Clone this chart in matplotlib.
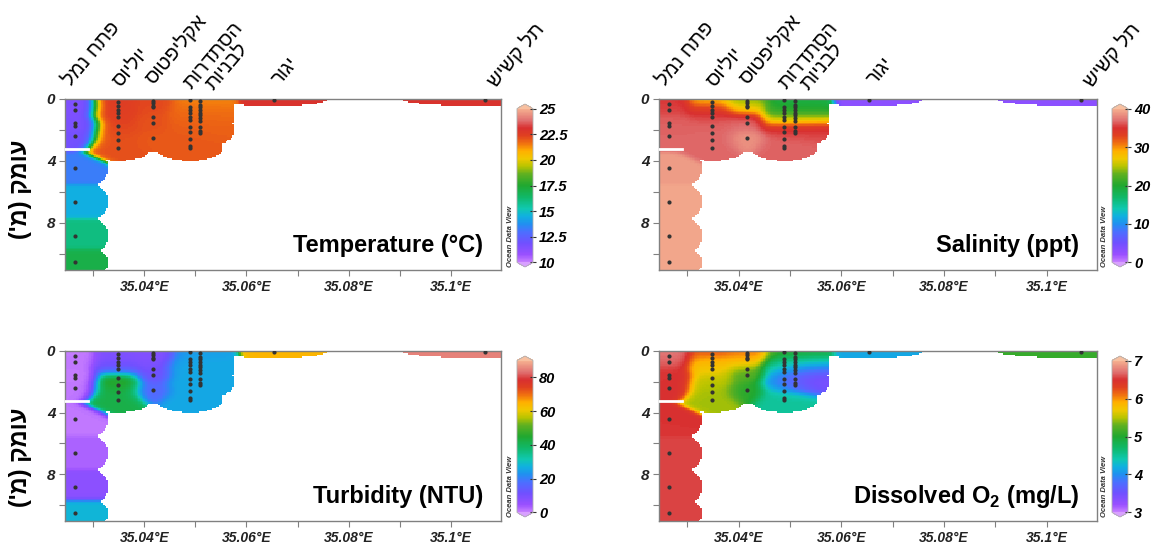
import numpy as np
import matplotlib
matplotlib.use('Agg')
import matplotlib.pyplot as plt
from matplotlib.colors import LinearSegmentedColormap
from matplotlib.ticker import FixedLocator

plt.rcParams['font.family'] = ['Liberation Sans', 'DejaVu Sans']
plt.rcParams['mathtext.fontset'] = 'custom'
plt.rcParams['mathtext.rm'] = 'Liberation Sans:bold'
plt.rcParams['mathtext.bf'] = 'Liberation Sans:bold'

# stations along the section (longitude) and the depths sampled at each
station_names = ['פתח נמל', 'יוליוס', 'אקליפטוס', 'הסתדרות', 'לבניות', 'יגור', 'תל קשיש']
station_lon = [35.0265, 35.0349, 35.0417, 35.0489, 35.0510, 35.0653, 35.1066]
station_depth = [
    [0.35, 0.7, 1.55, 1.75, 2.4, 4.45, 6.63, 8.84, 10.55],
    [0.17, 0.45, 0.71, 0.93, 1.19, 1.75, 2.18, 2.66, 3.16],
    [0.13, 0.28, 0.45, 0.54, 1.15, 1.58, 2.55],
    [0.06, 0.54, 0.71, 0.93, 1.15, 1.36, 1.84, 2.12, 2.61, 3.03, 3.16],
    [0.11, 0.37, 0.54, 0.71, 0.89, 1.04, 1.21, 1.4, 1.79, 2.07, 2.22],
    [0.06],
    [0.06],
]

temperature = [
    [11.5, 11.5, 11.6, 11.6, 11.8, 13.3, 14.5, 16.0, 17.0],
    [22.6, 22.5, 22.5, 22.4, 22.4, 22.3, 22.2, 22.1, 22.1],
    [22.3, 22.3, 22.2, 22.2, 22.1, 22.1, 22.0],
    [21.4, 21.6, 21.7, 21.8, 21.8, 21.9, 21.9, 22.0, 22.0, 22.0, 22.0],
    [21.2, 21.4, 21.6, 21.6, 21.7, 21.7, 21.8, 21.8, 21.8, 21.9, 21.9],
    [23.0],
    [23.0],
]
salinity = [
    [35.0, 35.8, 36.3, 36.5, 36.6, 39.0, 39.5, 39.5, 39.5],
    [26.0, 32.0, 34.5, 35.5, 36.0, 36.5, 36.6, 36.6, 36.6],
    [21.0, 23.5, 27.0, 30.0, 36.0, 37.0, 38.5],
    [19.0, 19.5, 20.0, 21.0, 24.0, 28.0, 34.0, 36.0, 36.5, 36.5, 36.5],
    [19.0, 19.0, 19.0, 19.5, 20.0, 22.0, 27.0, 31.0, 34.5, 35.5, 36.0],
    [3.0],
    [3.0],
]
turbidity = [
    [0.5, 1, 0.5, 0.5, 1, 1, 3, 7, 28],
    [9, 9, 10, 11, 15, 50, 45, 42, 42],
    [8, 8, 9, 9, 10, 12, 16],
    [22, 24, 25, 25, 26, 26, 26, 26, 26, 26, 26],
    [24, 25, 26, 26, 26, 26, 26, 26, 26, 26, 26],
    [64],
    [85],
]
oxygen = [
    [6.75, 6.6, 6.5, 6.5, 6.5, 6.5, 6.55, 6.55, 6.55],
    [6.4, 5.95, 5.8, 5.75, 5.7, 5.55, 5.5, 5.45, 5.45],
    [6.4, 6.0, 5.8, 5.7, 5.4, 5.2, 5.05],
    [5.3, 5.0, 4.85, 4.6, 4.4, 4.2, 4.1, 4.15, 4.4, 4.5, 4.5],
    [5.0, 4.9, 4.7, 4.4, 4.1, 3.8, 3.6, 3.5, 3.4, 3.4, 3.45],
    [4.15],
    [5.1],
]

# where each station name starts, in pixels from the station at the top of the axes
label_offset = [(-5, 12), (2, 11), (0, 14), (2, 9), (13, 8), (6, 13), (11, 11)]

lon_min, lon_max = 35.0245, 35.1098
depth_max = 11.05
gap_depth, gap_end = 3.25, 35.029

# gridding settings (ODV-like weighted average with blanking)
grid_lx = [0.0065, 0.0065, 0.0065, 0.0065, 0.0065, 0.0105, 0.016]
single_lz = 0.40

odv = LinearSegmentedColormap.from_list('odv', [
    (0.0, '#c880ff'), (0.05, '#9a50ff'), (0.125, '#7050ff'), (0.2, '#4a70ff'),
    (0.25, '#2090f0'), (0.3, '#10b0e0'), (0.35, '#10c8b0'), (0.425, '#10b868'),
    (0.5, '#20a830'), (0.575, '#60b020'), (0.625, '#b8c400'), (0.675, '#f0c800'),
    (0.725, '#ffb000'), (0.775, '#f07010'), (0.825, '#e04020'), (0.875, '#d83030'),
    (0.925, '#e07070'), (1.0, '#f5b090')])
odv.set_over('#f8c0a0')
odv.set_under('#d8a0ff')

gx = np.linspace(lon_min, lon_max, 260)
gz = np.linspace(0, depth_max, 112)
X, Z = np.meshgrid(gx, gz)

xs = np.concatenate([[lon] * len(d) for lon, d in zip(station_lon, station_depth)])
zs = np.concatenate(station_depth)
lxs = np.concatenate([[lx] * len(d) for lx, d in zip(grid_lx, station_depth)])
lzs = []
for d in station_depth:
    d = np.asarray(d)
    if len(d) == 1:
        lzs.append([single_lz])
        continue
    g = np.diff(d)
    lzs.append(np.maximum(0.85, 0.65 * np.maximum(np.r_[0, g], np.r_[g, 0])))
lzs = np.concatenate(lzs)

ell = ((X[..., None] - xs) / lxs) ** 2 + ((Z[..., None] - zs) / lzs) ** 2
blank = ell.min(axis=-1) > 1

d2 = (((X[..., None] - xs) / 0.0065) ** 2 + ((Z[..., None] - zs) / 1.0) ** 2) / 0.25
d2 -= d2.min(axis=-1, keepdims=True)
wts = np.exp(-d2)


def grid_field(values):
    v = np.concatenate(values)
    f = (wts * v).sum(-1) / wts.sum(-1)
    return np.ma.masked_array(f, blank)


panels = [
    (temperature, 10, 25, [10, 12.5, 15, 17.5, 20, 22.5, 25], ['10', '12.5', '15', '17.5', '20', '22.5', '25'],
     'Temperature (°C)'),
    (salinity, 0, 40, [0, 10, 20, 30, 40], ['0', '10', '20', '30', '40'], 'Salinity (ppt)'),
    (turbidity, 0, 90, [0, 20, 40, 60, 80], ['0', '20', '40', '60', '80'], 'Turbidity (NTU)'),
    (oxygen, 3, 7, [3, 4, 5, 6, 7], ['3', '4', '5', '6', '7'], r'Dissolved O$_\mathbf{2}$ (mg/L)'),
]

W, H = 1161, 551
fig = plt.figure(figsize=(W / 100, H / 100), dpi=100)

# pixel boxes: (left, top, right, bottom), colorbar (left, top, right, bottom)
ax_boxes = [(65, 99, 501, 270), (659, 99, 1097, 270), (65, 351, 501, 521), (659, 351, 1097, 521)]
cb_boxes = [(517, 104, 533, 267), (1112, 104, 1128, 267), (517, 356, 533, 517), (1112, 356, 1128, 517)]

frame = '#808080'
for i, (vals, vmin, vmax, cticks, clabels, title) in enumerate(panels):
    l, t, r, b = ax_boxes[i]
    ax = fig.add_axes([l / W, (H - b) / H, (r - l) / W, (b - t) / H])
    mesh = ax.pcolormesh(gx, gz, grid_field(vals), cmap=odv, vmin=vmin, vmax=vmax,
                         shading='nearest', rasterized=True)
    ax.plot([lon_min, gap_end], [gap_depth, gap_depth], color='white', lw=2, zorder=3)
    for lon, d in zip(station_lon, station_depth):
        ax.plot([lon] * len(d), d, 'o', ms=3, color='#333333', mec='none', zorder=4)
    ax.set_xlim(lon_min, lon_max)
    ax.set_ylim(depth_max, 0)
    for sp in ax.spines.values():
        sp.set_color(frame)
        sp.set_linewidth(1)
    ax.set_xticks([35.04, 35.06, 35.08, 35.1])
    ax.set_xticklabels(['35.04°E', '35.06°E', '35.08°E', '35.1°E'],
                       fontsize=10, fontweight='bold', fontstyle='italic')
    ax.xaxis.set_minor_locator(FixedLocator([35.03, 35.05, 35.07, 35.09]))
    ax.set_yticks([0, 4, 8])
    ax.set_yticklabels(['0', '4', '8'], fontsize=11, fontweight='bold', fontstyle='italic')
    ax.yaxis.set_minor_locator(FixedLocator([2, 6, 10]))
    ax.tick_params(which='both', direction='out', length=4, width=0.8, color=frame, pad=3,
                   labelcolor='#222222')

    if i < 2:
        for name, lon, off in zip(station_names, station_lon, label_offset):
            ax.annotate(name[::-1], xy=(lon, 0), xycoords='data', xytext=off,
                        textcoords='offset pixels', rotation=50, rotation_mode='anchor',
                        ha='left', va='baseline', fontsize=14.5, annotation_clip=False)

    ax.annotate(title, xy=(1, 0), xycoords='axes fraction', xytext=(-18, 18),
                textcoords='offset pixels', ha='right', va='baseline',
                fontsize=17, fontweight='bold')

    cl, ct, cr, cbm = cb_boxes[i]
    cax = fig.add_axes([cl / W, (H - cbm) / H, (cr - cl) / W, (cbm - ct) / H])
    cb = fig.colorbar(mesh, cax=cax, extend='both', extendfrac=0.03, ticks=cticks)
    cb.ax.set_yticklabels(clabels, fontsize=10.5, fontweight='bold', fontstyle='italic')
    cb.ax.tick_params(direction='inout', length=5, width=0.8, color='#333333', pad=2)
    cb.outline.set_edgecolor('#b0b0b0')
    cb.outline.set_linewidth(0.6)
    fig.text((cl - 7) / W, (H - cbm) / H, 'Ocean Data View', rotation=90, fontsize=5.5,
             fontstyle='italic', fontweight='bold', ha='center', va='bottom', color='#333333')

# vertical axis title, Hebrew drawn in visual order
ylab = "('מ) קמוע"
fig.text(21 / W, (H - 189) / H, ylab, rotation=90, fontsize=17, fontweight='bold',
         ha='center', va='center')
fig.text(21 / W, (H - 457) / H, ylab, rotation=90, fontsize=17, fontweight='bold',
         ha='center', va='center')

fig.savefig('out.png', dpi=100)
